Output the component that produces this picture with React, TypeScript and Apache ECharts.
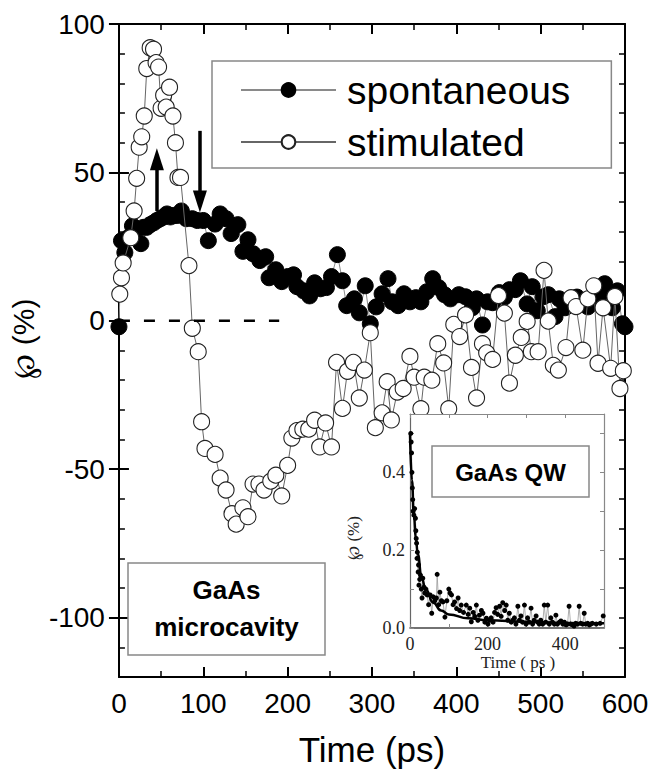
import React, { useEffect, useRef } from "react";
import * as echarts from "echarts";

// ---- main panel data (Time in ps, polarization in %) ----
const spontT = [0,3,7,11,16,21,26,29,33,37,41,45,49,53,57,61,65,69,74,80,87,93,100,106,114,120,127,133,141,147,153,159,167,174,178,186,193,200,207,211,219,226,232,239,246,252,259,265,270,279,285,292,298,305,312,319,324,331,338,345,352,358,365,372,379,386,393,403,411,419,424,431,437,443,451,457,463,470,476,484,490,496,503,509,517,522,529,536,543,550,556,565,571,576,585,591,597,600];
const spontV = [-2,27,23,28,32,31,26,31.5,31.5,32.4,33,33.8,34.4,35,36,35,35.5,35.5,37,34.4,34.4,33.8,33.8,27,32.6,36,34.4,29.4,32.4,23.4,27.3,22.6,20.3,21.6,14.5,17.2,13.2,14.9,15.5,11.5,10.1,8.4,12.8,10.8,11.2,14.9,22.3,13.5,5.1,7.4,2.7,11.8,-1,4.7,9.1,14.2,6.4,5.1,9.1,6.4,7.8,6.4,9.8,14.2,11.2,8.8,7.4,8.8,8.1,4.4,7.4,-1.4,6.4,6.1,9.5,8,10.5,10.5,13.5,5.7,11.5,3.4,8.1,8.8,1.4,7.4,4.4,6,8,6,4.7,7.8,9,12.5,4.4,10.1,-1,-2];

const stimT = [1,3,5,14,18,21,24,27,30,33,37,41,44,47,50,53,56,60,64,67,70,73,83,87,94,98,102,114,120,127,134,139,147,153,159,166,172,180,186,193,200,205,211,218,225,232,238,245,252,258,265,271,278,285,291,298,304,312,318,323,330,337,345,350,358,362,371,378,385,391,397,404,411,418,424,431,436,443,450,457,463,470,477,484,489,497,504,509,515,521,530,536,542,550,556,563,568,574,583,588,594,598];
const stimV = [9,14.5,19.5,28,37,48,58.5,62,69,85,92,91.5,87,85.5,71.6,76,72,78.7,69,60,48.3,48.3,18.6,-2.5,-10.4,-34,-43,-45,-53,-57,-65,-68.5,-63,-66,-55,-55,-57,-54,-52,-59,-48.7,-39.5,-37,-36.5,-36.5,-33.5,-42.5,-34.4,-42.5,-14,-29.5,-17,-14,-26,-16.6,-4,-36,-31,-20.5,-33.4,-24,-22.8,-12,-19,-29.6,-19,-20,-7.7,-14.2,-29.6,-1.2,-5.3,2,-15.7,-26,-7.7,-10.8,-13,8.5,2.6,-21,-11.6,-5.6,-0.2,-10.4,-10.4,17,-0.1,-15,-16.6,-9,7.8,4.8,-9.9,7.4,11.8,-14.3,4.4,-16,8.2,-22.8,-16.8];

// dashed zero reference and arrows (data coordinates)
const zeroLineT = [0, 190];
const zeroLineV = [0, 0];
const upArrow = { t: 45, from: 37, to: 54.4 };
const downArrow = { t: 96, from: 64, to: 40.2 };

// ---- inset data (GaAs QW) ----
const insetT = [2,3,4,5,6,7,8,10,12,14,15,16,17,18,19,21,22,23,25,27,29,31,33,36,38,41,44,48,52,56,60,64,68,70,74,77,81,85,90,95,100,103,107,111,115,120,124,128,132,138,145,150,154,158,163,167,171,175,179,184,188,193,197,201,205,209,214,218,222,226,231,235,239,244,248,252,256,261,265,269,273,278,282,286,290,295,299,303,307,312,316,320,325,329,333,337,342,346,350,355,359,363,367,372,376,380,385,389,394,398,402,406,410,414,419,423,427,432,436,440,445,449,453,458,462,466,470,480,490,498];
const insetV = [0.50,0.478,0.45,0.40,0.36,0.33,0.30,0.29,0.307,0.282,0.25,0.23,0.218,0.179,0.195,0.144,0.162,0.11,0.125,0.136,0.10,0.077,0.128,0.105,0.09,0.10,0.085,0.06,0.085,0.038,0.08,0.07,0.077,0.138,0.06,0.092,0.07,0.067,0.028,0.07,0.10,0.09,0.085,0.06,0.067,0.05,0.077,0.045,0.059,0.04,0.059,0.035,0.051,0.016,0.04,0.03,0.059,0.02,0.033,0.045,0.038,0.015,0.025,0.01,0.02,0.026,0.015,0.04,0.052,0.035,0.056,0.03,0.065,0.045,0.059,0.02,0.038,0.015,0.02,0.026,0.01,0.056,0.02,0.031,0.015,0.059,0.01,0.026,0.015,0.051,0.01,0.02,0.031,0.015,0.01,0.02,0.01,0.059,0.015,0.059,0.01,0.026,0.015,0.01,0.033,0.01,0.015,0.018,0.01,0.015,0.008,0.01,0.056,0.01,0.008,0.005,0.012,0.01,0.056,0.012,0.01,0.038,0.01,0.012,0.008,0.01,0.012,0.01,0.012,0.031];
const fitT = [0,5,10,15,20,30,40,60,80,100,150,200,250,300,400,500];
const fitV = [0.5,0.38,0.29,0.23,0.19,0.13,0.1,0.065,0.045,0.035,0.025,0.02,0.018,0.016,0.013,0.012];

// ---- tick labels ----
const mainYLabels = [-100, -50, 0, 50, 100];
const insetXLabels = [0, 200, 400];
const insetYLabels = [0, 0.2, 0.4];

const SANS = '"Liberation Sans", Arial, Helvetica, sans-serif';
const SERIF = '"Liberation Serif", "Times New Roman", serif';

const zip = (a: number[], b: number[]) => {
  const n = Math.min(a.length, b.length);
  const out: number[][] = [];
  for (let i = 0; i < n; i++) out.push([a[i], b[i]]);
  return out;
};

export default function App() {
  const ref = useRef<HTMLDivElement>(null);
  useEffect(() => {
    if (!ref.current) return;
    const chart = echarts.init(ref.current, undefined, { renderer: "svg" });
    const black = "#000";
    const mainTick = (len: number, w: number) => ({ show: true, inside: true, length: len, lineStyle: { color: black, width: w } });
    const insetTick = { show: true, inside: true, length: 4, lineStyle: { color: "#888", width: 1 } };
    const option: any = {
      animation: false,
      backgroundColor: "#fff",
      grid: [
        { left: 108, right: 28, top: 24, bottom: 105 },
        { left: 410, right: 49, top: 414, bottom: 154, show: true, backgroundColor: "#fff", borderWidth: 0, z: 5 },
      ],
      legend: {
        data: ["spontaneous", "stimulated"],
        orient: "vertical",
        left: 212,
        top: 61,
        padding: [9, 41, 6, 28],
        itemGap: 12,
        itemWidth: 95,
        itemHeight: 17,
        backgroundColor: "#fff",
        borderColor: "#888",
        borderWidth: 1.5,
        borderRadius: 0,
        selectedMode: false,
        z: 10,
        textStyle: { fontSize: 39, lineHeight: 40, color: black, fontFamily: SANS, padding: [0, 0, 0, 6] },
      },
      xAxis: [
        {
          type: "value", gridIndex: 0, position: "bottom", min: 0, max: 600, interval: 100,
          axisLine: { show: true, onZero: false, lineStyle: { color: black, width: 2 } },
          axisTick: mainTick(10, 2),
          minorTick: { show: true, splitNumber: 2, length: 6, lineStyle: { color: black, width: 1.5 } },
          splitLine: { show: false },
          axisLabel: { fontSize: 28, color: black, margin: 12, fontFamily: SANS },
          name: "Time (ps)", nameLocation: "middle", nameGap: 55,
          nameTextStyle: { fontSize: 35, color: black, fontFamily: SANS },
        },
        {
          type: "value", gridIndex: 0, position: "top", min: 0, max: 600, interval: 100,
          axisLine: { show: true, onZero: false, lineStyle: { color: black, width: 2 } },
          axisTick: mainTick(10, 2),
          minorTick: { show: true, splitNumber: 2, length: 6, lineStyle: { color: black, width: 1.5 } },
          splitLine: { show: false },
          axisLabel: { show: false },
        },
        {
          type: "value", gridIndex: 1, position: "bottom", min: 0, max: 500, interval: 100, z: 6,
          axisLine: { show: true, onZero: false, lineStyle: { color: "#444", width: 1.5 } },
          axisTick: insetTick,
          splitLine: { show: false },
          axisLabel: { customValues: insetXLabels, fontSize: 18, color: "#222", margin: 7, fontFamily: SERIF },
          name: "Time ( ps )", nameLocation: "middle", nameGap: 25,
          nameTextStyle: { fontSize: 17, color: "#222", fontFamily: SERIF, padding: [0, 0, 0, 22] },
        },
        {
          type: "value", gridIndex: 1, position: "top", min: 0, max: 500, interval: 100, z: 6,
          axisLine: { show: true, onZero: false, lineStyle: { color: "#888", width: 1.2 } },
          axisTick: insetTick,
          splitLine: { show: false },
          axisLabel: { show: false },
        },
      ],
      yAxis: [
        {
          type: "value", gridIndex: 0, position: "left", min: -120, max: 100, interval: 10,
          axisLine: { show: true, onZero: false, lineStyle: { color: black, width: 2 } },
          axisTick: mainTick(6, 1.5),
          splitLine: { show: false },
          axisLabel: { customValues: mainYLabels, fontSize: 28, color: black, margin: 14, fontFamily: SANS },
          name: "\u2118 (%)", nameLocation: "middle", nameGap: 55,
          nameTextStyle: { fontSize: 30, color: black, fontFamily: SANS, padding: [0, 0, 0, 24] },
        },
        {
          type: "value", gridIndex: 0, position: "left", min: -120, max: 100, interval: 10,
          axisLine: { show: false },
          axisTick: { ...mainTick(10, 2), customValues: mainYLabels },
          splitLine: { show: false },
          axisLabel: { show: false },
        },
        {
          type: "value", gridIndex: 0, position: "right", min: -120, max: 100, interval: 10,
          axisLine: { show: true, onZero: false, lineStyle: { color: black, width: 2 } },
          axisTick: mainTick(6, 1.5),
          splitLine: { show: false },
          axisLabel: { show: false },
        },
        {
          type: "value", gridIndex: 0, position: "right", min: -120, max: 100, interval: 10,
          axisLine: { show: false },
          axisTick: { ...mainTick(10, 2), customValues: mainYLabels },
          splitLine: { show: false },
          axisLabel: { show: false },
        },
        {
          type: "value", gridIndex: 1, position: "left", min: 0, max: 0.55, interval: 0.1, z: 6,
          axisLine: { show: true, onZero: false, lineStyle: { color: "#666", width: 1.2 } },
          axisTick: insetTick,
          splitLine: { show: false },
          axisLabel: { customValues: insetYLabels, formatter: (v: number) => v.toFixed(1), fontSize: 18, color: "#222", margin: 5, fontFamily: SERIF },
        },
        {
          type: "value", gridIndex: 1, position: "right", min: 0, max: 0.55, interval: 0.1, z: 6,
          axisLine: { show: true, onZero: false, lineStyle: { color: "#888", width: 1.2 } },
          axisTick: insetTick,
          splitLine: { show: false },
          axisLabel: { show: false },
        },
      ],
      series: [
        {
          name: "spontaneous", type: "line", xAxisIndex: 0, yAxisIndex: 0, z: 2,
          data: zip(spontT, spontV),
          symbol: "circle", symbolSize: 16,
          itemStyle: { color: black, borderColor: black, borderWidth: 1 },
          lineStyle: { color: "#8a8a8a", width: 1 },
        },
        {
          name: "stimulated", type: "line", xAxisIndex: 0, yAxisIndex: 0, z: 3,
          data: zip(stimT, stimV),
          symbol: "circle", symbolSize: 16,
          itemStyle: { color: "#fff", borderColor: "#222", borderWidth: 1.1 },
          lineStyle: { color: "#666", width: 1 },
        },
        {
          name: "zero", type: "line", xAxisIndex: 0, yAxisIndex: 0, z: 4,
          data: zip(zeroLineT, zeroLineV),
          symbol: "none", showSymbol: false,
          lineStyle: { color: black, width: 2.5, type: [11, 14] },
          markLine: {
            silent: true,
            symbol: ["none", "triangle"],
            symbolSize: [14, 22],
            label: { show: false },
            lineStyle: { color: black, width: 3.5, type: "solid" },
            data: [
              [{ coord: [upArrow.t, upArrow.from] }, { coord: [upArrow.t, upArrow.to] }],
              [{ coord: [downArrow.t, downArrow.from] }, { coord: [downArrow.t, downArrow.to] }],
            ],
          },
        },
        {
          name: "QW data", type: "line", xAxisIndex: 2, yAxisIndex: 4, z: 7,
          data: zip(insetT, insetV),
          symbol: "circle", symbolSize: 5,
          itemStyle: { color: black, borderWidth: 0 },
          lineStyle: { color: "#999", width: 0.8 },
        },
        {
          name: "QW fit", type: "line", xAxisIndex: 2, yAxisIndex: 4, z: 8,
          data: zip(fitT, fitV),
          symbol: "none", showSymbol: false, smooth: true, smoothMonotone: "x",
          lineStyle: { color: black, width: 2.5 },
        },
      ],
      graphic: [
        {
          type: "rect", z: 5,
          shape: { x: 128, y: 563, width: 197, height: 92 },
          style: { fill: "#fff", stroke: "#888", lineWidth: 1.5 },
        },
        {
          type: "text", z: 6, x: 226.5, y: 590,
          style: { text: "GaAs", font: `bold 26px ${SANS}`, fill: black, align: "center", verticalAlign: "middle", textAlign: "center", textVerticalAlign: "middle" },
        },
        {
          type: "text", z: 6, x: 226.5, y: 627,
          style: { text: "microcavity", font: `bold 26px ${SANS}`, fill: black, align: "center", verticalAlign: "middle", textAlign: "center", textVerticalAlign: "middle" },
        },
        {
          type: "rect", z: 9,
          shape: { x: 432, y: 446, width: 157, height: 51 },
          style: { fill: "#fff", stroke: "#888", lineWidth: 1.5 },
        },
        {
          type: "text", z: 10, x: 510.5, y: 472,
          style: { text: "GaAs QW", font: `bold 24px ${SANS}`, fill: black, align: "center", verticalAlign: "middle", textAlign: "center", textVerticalAlign: "middle" },
        },
        {
          type: "text", z: 10, x: 353, y: 538, rotation: Math.PI / 2,
          style: { text: "\u2118 (%)", font: `17px ${SERIF}`, fill: "#222", align: "center", verticalAlign: "middle", textAlign: "center", textVerticalAlign: "middle" },
        },
      ],
    };
    chart.setOption(option);
    return () => chart.dispose();
  }, []);
  return <div ref={ref} style={{ position: "absolute", left: 0, top: 0, width: 653, height: 782 }} />;
}
